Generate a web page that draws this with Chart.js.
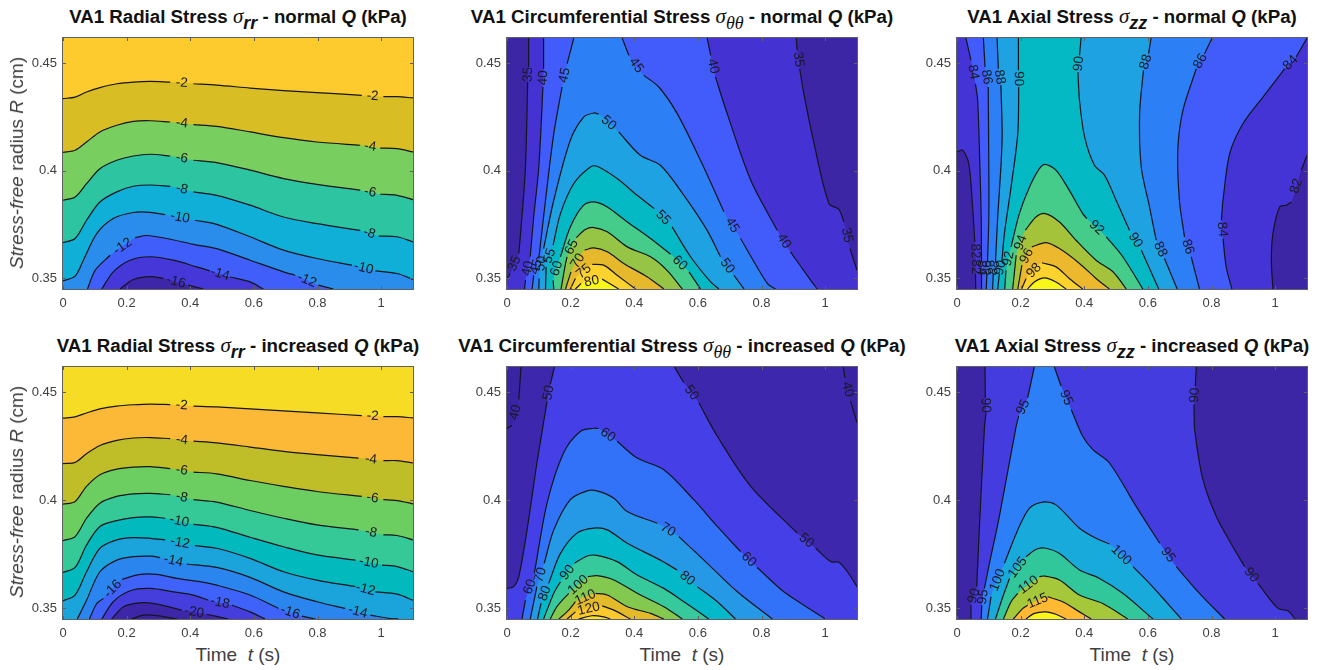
<!DOCTYPE html>
<html>
<head>
<meta charset="utf-8">
<script src="https://cdn.jsdelivr.net/npm/chart.js@4"></script>
<style>
  html, body { margin: 0; padding: 0; background: #fff; }
  #page { position: relative; width: 1323px; height: 670px; overflow: hidden; font-family: "Liberation Sans", Arial, sans-serif; }
  canvas { position: absolute; }
  .title { position: absolute; white-space: pre; font-weight: bold; font-size: 18.7px; line-height: 20px; color: #111; transform: translateX(-50%); }
  .title .sym { font-family: "Liberation Serif", serif; font-style: italic; font-weight: normal; font-size: 21px; }
  .title sub { font-style: italic; font-size: 18px; line-height: 0; position: relative; top: 6px; vertical-align: baseline; }
  .title sub.th { font-family: "Liberation Serif", serif; font-weight: normal; }
  .xlab, .ylab { position: absolute; white-space: pre; font-size: 19px; line-height: 20px; color: #404040; }
  .xlab { transform: translateX(-50%); }
  .ylab { transform: translate(-50%, -50%) rotate(-90deg); }
</style>
</head>
<body>
<div id="page"></div>
<script>
// axis limits and ticks
const tMin = 0, tMax = 1.1, rMin = 0.345, rMax = 0.4618;
const tTicks = [0, 0.2, 0.4, 0.6, 0.8, 1];
const rTicks = [0.35, 0.4, 0.45];

// null in a contour = gap where the level label sits
// Radial stress, normal Q
const rrNLevels = [-2, -4, -6, -8, -10, -12, -14, -16];
const rrNColors = ["#fdcb2e", "#d9bd24", "#78ce5f", "#2dc4a2", "#10afd8", "#2a8deb", "#405efa", "#4637d8", "#3e26a8"];
const rrN2 = [[0,.4336],[.038,.4343],[.074,.4367],[.116,.4387],[.169,.4405],[.221,.4413],[.274,.4416],[.337,.4413],null,[.41,.4405],[.483,.4399],[.588,.4385],[.693,.4373],[.798,.4364],[.939,.4351],null,[1.007,.4345],[1.05,.4345],[1.1,.4339]];
const rrN4 = [[0,.4086],[.038,.4096],[.074,.4134],[.116,.4181],[.169,.4212],[.221,.4230],[.274,.4233],[.337,.4227],null,[.41,.4215],[.483,.4207],[.588,.4181],[.693,.4154],[.798,.4134],[.934,.4119],null,[.997,.4106],[1.05,.4103],[1.1,.4088]];
const rrN6 = [[0,.3863],[.038,.3878],[.074,.3940],[.116,.4010],[.169,.4049],[.221,.4069],[.274,.4077],[.337,.4069],null,[.41,.4049],[.483,.4038],[.588,.4003],[.693,.3964],[.798,.3937],[.934,.3910],null,[.997,.3891],[1.05,.3886],[1.1,.3866]];
const rrN8 = [[0,.3665],[.038,.3685],[.074,.3770],[.116,.3855],[.169,.3902],[.221,.3928],[.274,.3934],[.337,.3928],null,[.41,.3902],[.483,.3886],[.588,.3840],[.693,.3785],[.798,.3754],[.934,.3723],null,[.992,.3696],[1.05,.3693],[1.1,.3669]];
const rrN10 = [[0,.3488],[.038,.3510],[.064,.3584],[.106,.3708],[.158,.3778],[.221,.3806],[.274,.3807],[.321,.3796],null,[.415,.3770],[.483,.3751],[.588,.3693],[.693,.3631],[.798,.3592],[.908,.3561],null,[.982,.3534],[1.05,.3522],[1.1,.3494]];
const rrN12 = [[.077,.345],[.101,.3537],[.148,.3607],null,[.227,.3689],[.263,.3699],[.326,.3685],[.41,.3658],[.483,.3638],[.588,.3584],[.693,.3530],[.73,.3514],null,[.803,.3468],[.85,.345]];
const rrN14 = [[.122,.345],[.158,.3530],[.211,.3584],[.274,.3600],[.347,.3584],[.42,.3553],[.462,.3534],null,[.525,.3506],[.588,.3483],[.63,.345]];
const rrN16 = [[.179,.345],[.221,.3494],[.274,.3508],[.316,.3499],null,[.394,.3468],[.441,.345]];

// Circumferential stress, normal Q
const ttNLevels = [35, 40, 45, 50, 55, 60, 65, 70, 75, 80];
const ttNColors = ["#3c26a5", "#4432d2", "#415cfa", "#2d7ff5", "#1fa2e2", "#04b8c4", "#46cc8a", "#96c445", "#e6b92d", "#fcd22e", "#f9f61a"];
const ttN35L = [[0,.3499],[.010,.3522],null,[.037,.3615],[.047,.3786],[.058,.4018],[.065,.4413],null,[.068,.4483],[.068,.4618]];
const ttN35R = [[.909,.4618],[.912,.4561],null,[.920,.4475],[.933,.4359],[.965,.4127],[1.012,.3848],[1.043,.3820],[1.059,.3762],null,[1.078,.3638],[1.1,.3537]];
const ttN40L = [[.055,.345],[.058,.3491],null,[.073,.3600],[.084,.3786],[.100,.4018],[.113,.4390],null,[.115,.4475],[.115,.4618]];
const ttN40R = [[.629,.4618],[.640,.4537],null,[.655,.4437],[.692,.4266],[.766,.3956],[.849,.3723],null,[.891,.3623],[.954,.3491],[.975,.345]];
const ttN45L = [[.079,.345],[.084,.3514],null,[.100,.3592],[.121,.3863],[.147,.4173],[.173,.4390],null,[.189,.4499],[.210,.4618]];
const ttN45R = [[.362,.4618],[.383,.4537],null,[.430,.4444],[.477,.4390],[.535,.4266],[.608,.4049],[.682,.3809],null,[.734,.3685],[.818,.3476],[.844,.345]];
const ttN50 = [[.100,.345],[.101,.3499],null,[.115,.3638],[.147,.3863],[.199,.4142],[.241,.4250],[.273,.4269],[.288,.4264],null,[.351,.4181],[.419,.4072],[.482,.4026],[.556,.3886],[.629,.3723],[.671,.3600],null,[.713,.3514],[.745,.345]];
const ttN55 = [[.121,.345],[.123,.3553],null,[.145,.3654],[.168,.3801],[.210,.3941],[.262,.4018],[.283,.4021],[.346,.3964],[.409,.3886],[.463,.3824],null,[.519,.3739],[.577,.3600],[.640,.3483],[.666,.345]];
const ttN60 = [[.147,.345],[.145,.3491],null,[.168,.3600],[.199,.3739],[.241,.3840],[.273,.3855],[.315,.3832],[.378,.3762],[.451,.3685],[.514,.3612],null,[.572,.3530],[.608,.345]];
const ttN65 = [[.170,.345],[.184,.3569],[.189,.3600],null,[.218,.3689],[.246,.3727],[.273,.3736],[.315,.3716],[.378,.3646],[.451,.3600],[.503,.3537],[.551,.345]];
const ttN70 = [[.184,.345],[.201,.3530],null,[.244,.3631],[.273,.3641],[.315,.3623],[.367,.3569],[.440,.3507],[.493,.345]];
const ttN75 = [[.199,.345],[.215,.3499],null,[.268,.3565],[.304,.3561],[.346,.3514],[.404,.345]];
const ttN80 = [[.215,.345],[.233,.3476],null,[.299,.3496],[.351,.345]];

// Axial stress, normal Q
const zzNLevels = [82, 84, 86, 88, 90, 92, 94, 96, 98, 100];
const zzNColors = ["#3c26a5", "#4434d6", "#415cfa", "#2d7ff5", "#1fa2e2", "#04b8c4", "#46cc8a", "#a5c33a", "#ecb92e", "#fcd22e", "#f9f61a"];
const zzN82L = [[0,.4088],[.018,.4096],[.037,.4034],[.049,.3832],[.056,.3669],null,[.058,.3584],null,[.058,.3522],[.059,.345]];
const zzN82R = [[.993,.345],[.988,.3584],[.993,.3708],[1.014,.3832],[1.035,.3840],[1.051,.3855],null,[1.082,.4003],[1.1,.4072]];
const zzN84L = [[.077,.345],[.077,.3522],null,[.077,.3576],[.076,.3786],[.072,.4018],[.065,.4328],[.058,.4405],null,[.044,.4514],[.028,.4618]];
const zzN84R = [[1.1,.4618],[1.066,.4530],null,[1.030,.4475],[.962,.4344],[.899,.4220],[.857,.4080],[.836,.3863],[.831,.3770],null,[.836,.3685],[.846,.3553],[.864,.345]];
const zzN86L = [[.092,.345],[.094,.3522],null,[.096,.3576],[.100,.3786],[.100,.4018],[.098,.4390],null,[.088,.4483],[.083,.4618]];
const zzN86R = [[.802,.4618],[.778,.4545],null,[.752,.4475],[.710,.4281],[.694,.4096],[.699,.3863],[.715,.3692],null,[.736,.3600],[.762,.345]];
const zzN88L = [[.112,.345],[.114,.3522],null,[.121,.3576],[.128,.3786],[.138,.4018],[.142,.4173],[.138,.4398],null,[.130,.4475],[.126,.4618]];
const zzN88R = [[.610,.4618],[.602,.4545],null,[.586,.4468],[.574,.4266],[.579,.4018],[.605,.3832],[.626,.3677],null,[.652,.3592],[.692,.345]];
const zzN90L = [[.128,.345],[.133,.3522],null,[.141,.3576],[.149,.3708],[.170,.3925],[.191,.4173],[.194,.4390],null,[.193,.4468],[.193,.4618]];
const zzN90R = [[.390,.4618],[.385,.4537],null,[.380,.4460],[.385,.4328],[.401,.4158],[.432,.4026],[.464,.3979],[.500,.3863],[.542,.3723],null,[.579,.3631],[.634,.345]];
const zzN92 = [[.150,.345],[.154,.3537],null,[.170,.3646],[.196,.3801],[.228,.3925],[.259,.4010],[.277,.4030],[.311,.4003],[.353,.3909],[.395,.3801],[.408,.3778],null,[.469,.3693],[.521,.3600],[.584,.345]];
const zzN94 = [[.175,.345],[.186,.3607],null,[.215,.3724],[.249,.3786],[.277,.3801],[.322,.3762],[.374,.3677],[.437,.3584],[.490,.3530],[.532,.345]];
const zzN96 = [[.191,.345],[.204,.3561],null,[.235,.3646],[.280,.3666],[.322,.3638],[.385,.3569],[.437,.3499],[.479,.345]];
const zzN98 = [[.203,.345],[.217,.3499],null,[.267,.3572],[.311,.3553],[.353,.3499],[.395,.345]];
const zzN100 = [[.222,.345],[.243,.3483],[.275,.3502],[.311,.3483],[.343,.345]];

// Radial stress, increased Q
const rrILevels = [-2, -4, -6, -8, -10, -12, -14, -16, -18, -20, -22];
const rrIColors = ["#f7dc26", "#fcb938", "#bfbe28", "#6ccd60", "#35c997", "#02b9be", "#1ba3dc", "#2b85ee", "#3f62fa", "#463edc", "#3e26a8", "#3a22a0"];
const rrI2 = [[0,.4381],[.038,.4387],[.074,.4405],[.116,.4424],[.169,.4437],[.221,.4443],[.274,.4446],[.337,.4444],null,[.41,.4437],[.483,.4433],[.588,.4424],[.693,.4415],[.798,.4405],[.939,.4393],null,[1.007,.4388],[1.05,.4388],[1.1,.4382]];
const rrI4 = [[0,.4170],[.038,.4176],[.074,.4216],[.116,.4254],[.169,.4278],[.221,.4289],[.274,.4291],[.337,.4286],null,[.41,.4274],[.483,.4266],[.588,.4247],[.693,.4227],[.798,.4212],[.929,.4196],null,[1.007,.4184],[1.05,.4184],[1.1,.4173]];
const rrI6 = [[0,.3982],[.038,.3995],[.074,.4065],[.116,.4119],[.169,.4145],[.221,.4154],[.274,.4156],[.337,.4147],null,[.41,.4131],[.483,.4123],[.588,.4092],[.693,.4065],[.798,.4041],[.939,.4018],null,[1.007,.4003],[1.05,.3999],[1.1,.3984]];
const rrI8 = [[0,.3813],[.038,.3832],[.074,.3917],[.116,.3987],[.169,.4018],[.221,.4030],[.274,.4032],[.337,.4026],null,[.41,.4003],[.483,.3992],[.588,.3953],[.693,.3917],[.798,.3886],[.929,.3863],null,[1.007,.3840],[1.05,.3837],[1.1,.3817]];
const rrI10 = [[0,.3666],[.038,.3689],[.074,.3793],[.116,.3879],[.169,.3906],[.221,.3920],[.274,.3923],[.321,.3917],null,[.41,.3889],[.483,.3875],[.588,.3829],[.693,.3785],[.798,.3747],[.919,.3723],null,[1.003,.3700],[1.05,.3693],[1.1,.3669]];
const rrI12 = [[0,.3534],[.038,.3561],[.074,.3669],[.116,.3778],[.169,.3817],[.221,.3827],[.274,.3824],[.321,.3817],null,[.415,.3790],[.483,.3778],[.588,.3731],[.693,.3669],[.798,.3630],[.919,.3600],null,[.982,.3576],[1.05,.3565],[1.1,.3537]];
const rrI14 = [[.045,.345],[.074,.3537],[.116,.3669],[.169,.3723],[.221,.3739],[.279,.3741],[.305,.3734],null,[.389,.3705],[.483,.3689],[.588,.3643],[.693,.3576],[.798,.3530],[.887,.3499],null,[.966,.3468],[1.029,.3452],[1.055,.345]];
const rrI16 = [[.083,.345],[.106,.3522],[.127,.3545],null,[.186,.3634],[.242,.3657],[.295,.3657],[.358,.3638],[.431,.3623],[.483,.3607],[.588,.3561],[.677,.3499],null,[.751,.3463],[.793,.345]];
const rrI18 = [[.122,.345],[.158,.3530],[.211,.3581],[.274,.3592],[.347,.3576],[.41,.3561],[.457,.3537],null,[.531,.3514],[.588,.3483],[.635,.345]];
const rrI20 = [[.153,.345],[.190,.3507],[.242,.3525],[.295,.3519],[.373,.3491],null,[.452,.3472],[.52,.345]];
const rrI22 = [[.216,.345],[.253,.3468],[.295,.3466],[.358,.345]];

// Circumferential stress, increased Q
const ttILevels = [40, 50, 60, 70, 80, 90, 100, 110, 120, 130];
const ttIColors = ["#3a24a3", "#3d27ad", "#443fe6", "#3272f9", "#2598e6", "#03b8c8", "#35c99b", "#84c94f", "#e2ba2a", "#fbc92e", "#f8e126"];
const ttI40L = [[0,.4333],[.016,.4348],null,[.037,.4467],[.044,.4618]];
const ttI40R = [[1.057,.4618],[1.062,.4568],null,[1.080,.4460],[1.1,.4359]];
const ttI50L = [[0,.3592],[.021,.3600],[.037,.3646],[.063,.3863],[.094,.4173],[.126,.4460],null,[.136,.4537],[.149,.4618]];
const ttI50R = [[.526,.4618],[.556,.4545],null,[.603,.4452],[.661,.4297],[.766,.4065],[.912,.3848],null,[.970,.3778],[1.017,.3716],[1.043,.3713],[1.070,.3669],[1.1,.3600]];
const ttI60 = [[.047,.345],[.058,.3537],null,[.086,.3662],[.126,.3987],[.178,.4220],[.231,.4320],[.273,.4334],[.288,.4333],null,[.346,.4274],[.409,.4196],[.493,.4142],[.587,.4003],[.661,.3879],[.734,.3762],null,[.786,.3689],[.870,.3576],[.933,.3514],[1.001,.345]];
const ttI70 = [[.073,.345],[.094,.3600],null,[.117,.3708],[.147,.3863],[.199,.4003],[.252,.4044],[.283,.4044],[.336,.4010],[.378,.3948],[.472,.3894],null,[.540,.3832],[.619,.3723],[.724,.3576],[.834,.345]];
const ttI80 = [[.096,.345],[.107,.3522],null,[.131,.3615],[.168,.3754],[.220,.3848],[.273,.3871],[.315,.3863],[.378,.3801],[.482,.3723],[.535,.3677],null,[.598,.3600],[.661,.3530],[.718,.345]];
const ttI90 = [[.115,.345],[.147,.3569],[.168,.3623],null,[.212,.3708],[.252,.3742],[.283,.3745],[.346,.3716],[.409,.3654],[.493,.3592],[.556,.3530],[.634,.345]];
const ttI100 = [[.136,.345],[.157,.3507],[.194,.3569],null,[.254,.3646],[.283,.3651],[.336,.3631],[.409,.3569],[.493,.3507],[.551,.345]];
const ttI110 = [[.163,.345],[.194,.3491],[.215,.3530],null,[.278,.3569],[.315,.3561],[.378,.3507],[.451,.3476],[.493,.345]];
const ttI120 = [[.189,.345],[.215,.3483],null,[.299,.3511],[.336,.3491],[.388,.345]];
const ttI130 = [[.225,.345],[.267,.3465],[.304,.3460],[.325,.345]];

// Axial stress, increased Q
const zzILevels = [90, 95, 100, 105, 110, 115, 120];
const zzIColors = ["#3c26a5", "#453ce0", "#2d7ff8", "#19aadc", "#32c79b", "#a5c83a", "#ffb932", "#f9f61a"];
const zzI90L = [[.044,.345],[.044,.3514],null,[.062,.3600],[.070,.3863],[.086,.4328],[.091,.4406],null,[.089,.4475],[.088,.4618]];
const zzI90R = [[.752,.4618],[.749,.4530],null,[.745,.4444],[.747,.4328],[.773,.4096],[.815,.3925],[.867,.3785],[.904,.3693],null,[.946,.3615],[1.009,.3499],[1.040,.3488],[1.063,.345]];
const zzI95L = [[.076,.345],[.078,.3514],null,[.086,.3592],[.102,.3708],[.133,.3925],[.186,.4344],[.194,.4390],null,[.222,.4475],[.243,.4618]];
const zzI95R = [[.306,.4618],[.327,.4530],null,[.359,.4421],[.395,.4297],[.427,.4235],[.479,.4173],[.563,.3972],[.637,.3801],null,[.689,.3693],[.762,.3569],[.841,.345]];
const zzI100 = [[.096,.345],[.107,.3553],null,[.149,.3708],[.191,.3863],[.228,.3964],[.270,.3992],[.311,.3979],[.385,.3871],[.437,.3824],[.479,.3798],null,[.553,.3693],[.605,.3615],[.657,.3530],[.705,.345]];
const zzI105 = [[.121,.345],[.144,.3553],[.165,.3638],null,[.217,.3739],[.249,.3773],[.275,.3779],[.322,.3754],[.385,.3677],[.448,.3638],[.521,.3569],[.616,.345]];
const zzI110 = [[.146,.345],[.170,.3530],[.191,.3569],null,[.259,.3646],[.275,.3649],[.322,.3631],[.385,.3561],[.458,.3522],[.537,.345]];
const zzI115 = [[.177,.345],[.207,.3499],[.222,.3514],null,[.285,.3553],[.332,.3530],[.385,.3483],[.422,.345]];
const zzI120 = [[.217,.345],[.243,.3476],[.280,.3483],[.311,.3472],[.343,.345]];

const panels = [
  { x: 63, y: 38, h: 251, title: ["VA1 Radial Stress ", "rr", " - normal "], levels: rrNLevels, colors: rrNColors,
    contours: [[rrN2],[rrN4],[rrN6],[rrN8],[rrN10],[rrN12],[rrN14],[rrN16]] },
  { x: 507, y: 38, h: 251, title: ["VA1 Circumferential Stress ", "θθ", " - normal "], levels: ttNLevels, colors: ttNColors,
    contours: [[ttN35L,ttN35R],[ttN40L,ttN40R],[ttN45L,ttN45R],[ttN50],[ttN55],[ttN60],[ttN65],[ttN70],[ttN75],[ttN80]] },
  { x: 957, y: 38, h: 251, title: ["VA1 Axial Stress ", "zz", " - normal "], levels: zzNLevels, colors: zzNColors, closeTop: [82],
    contours: [[zzN82L,zzN82R],[zzN84L,zzN84R],[zzN86L,zzN86R],[zzN88L,zzN88R],[zzN90L,zzN90R],[zzN92],[zzN94],[zzN96],[zzN98],[zzN100]] },
  { x: 63, y: 367, h: 252, title: ["VA1 Radial Stress ", "rr", " - increased "], levels: rrILevels, colors: rrIColors,
    contours: [[rrI2],[rrI4],[rrI6],[rrI8],[rrI10],[rrI12],[rrI14],[rrI16],[rrI18],[rrI20],[rrI22]] },
  { x: 507, y: 367, h: 252, title: ["VA1 Circumferential Stress ", "θθ", " - increased "], levels: ttILevels, colors: ttIColors,
    contours: [[ttI40L,ttI40R],[ttI50L,ttI50R],[ttI60],[ttI70],[ttI80],[ttI90],[ttI100],[ttI110],[ttI120],[ttI130]] },
  { x: 957, y: 367, h: 252, title: ["VA1 Axial Stress ", "zz", " - increased "], levels: zzILevels, colors: zzIColors,
    contours: [[zzI90L,zzI90R],[zzI95L,zzI95R],[zzI100],[zzI105],[zzI110],[zzI115],[zzI120]] }
];

const pad = { left: 45, top: 4, right: 12, bottom: 24 };
const plotW = 350;
const page = document.getElementById("page");

const toXY = p => (p ? { x: p[0], y: p[1] } : { x: null, y: null });

// closed outline of one level, doubled joints stay sharp with tension on
function outline(pieces, closeTop) {
  const pts = [];
  pieces.forEach(piece => {
    const clean = piece.filter(Boolean);
    pts.push(clean[0], ...clean, clean[clean.length - 1]);
  });
  const first = pts[0], last = pts[pts.length - 1];
  if (first[0] === tMin && last[0] === tMax) {
    const r = closeTop ? rMax : rMin;
    pts.push([tMax, r], [tMax, r], [tMin, r], [tMin, r]);
  }
  return pts;
}

function buildDatasets(panel) {
  const sets = [];
  const n = panel.contours.length;
  panel.contours.forEach((pieces, i) => {
    const closeTop = (panel.closeTop || []).includes(panel.levels[i]);
    sets.push({
      data: outline(pieces, closeTop).map(toXY),
      showLine: true, fill: "shape", backgroundColor: panel.colors[i + 1],
      borderWidth: 0, pointRadius: 0, tension: 0.3, order: n - i + 1
    });
    pieces.forEach(piece => sets.push({
      data: piece.map(toXY),
      showLine: true, fill: false, borderColor: "#15151c",
      borderWidth: 1.2, pointRadius: 0, tension: 0.3, spanGaps: false, order: 0
    }));
  });
  return sets;
}

// paints the lowest band, the box, the inward ticks and the level labels
const contourPlugin = {
  id: "contour",
  beforeDatasetsDraw(chart, args, opts) {
    const a = chart.chartArea, ctx = chart.ctx;
    ctx.save();
    ctx.fillStyle = opts.panel.colors[0];
    ctx.fillRect(a.left, a.top, a.width, a.height);
    ctx.restore();
  },
  afterDatasetsDraw(chart, args, opts) {
    const a = chart.chartArea, ctx = chart.ctx;
    const sx = chart.scales.x, sy = chart.scales.y;
    ctx.save();
    ctx.font = '13.5px "Liberation Sans"';
    ctx.fillStyle = "#1a1a20";
    ctx.textAlign = "center";
    ctx.textBaseline = "middle";
    opts.panel.contours.forEach((pieces, i) => {
      pieces.forEach(piece => piece.forEach((p, j) => {
        if (p) return;
        const x0 = sx.getPixelForValue(piece[j - 1][0]), y0 = sy.getPixelForValue(piece[j - 1][1]);
        const x1 = sx.getPixelForValue(piece[j + 1][0]), y1 = sy.getPixelForValue(piece[j + 1][1]);
        let ang = Math.atan2(y1 - y0, x1 - x0);
        if (ang > Math.PI / 2) ang -= Math.PI;
        if (ang <= -Math.PI / 2) ang += Math.PI;
        ctx.save();
        ctx.translate((x0 + x1) / 2, (y0 + y1) / 2);
        ctx.rotate(ang);
        ctx.fillText(String(opts.panel.levels[i]), 0, 0);
        ctx.restore();
      }));
    });
    ctx.strokeStyle = "#5f5f66";
    ctx.lineWidth = 1;
    ctx.strokeRect(a.left - 0.5, a.top - 0.5, a.width + 1, a.height + 1);
    ctx.beginPath();
    tTicks.forEach(v => {
      const x = Math.round(sx.getPixelForValue(v)) + 0.5;
      ctx.moveTo(x, a.bottom); ctx.lineTo(x, a.bottom - 3);
      ctx.moveTo(x, a.top); ctx.lineTo(x, a.top + 3);
    });
    rTicks.forEach(v => {
      const y = Math.round(sy.getPixelForValue(v)) + 0.5;
      ctx.moveTo(a.left, y); ctx.lineTo(a.left + 3, y);
      ctx.moveTo(a.right, y); ctx.lineTo(a.right - 3, y);
    });
    ctx.stroke();
    ctx.restore();
  }
};

const tickFont = { family: '"Liberation Sans"', size: 13 };

panels.forEach((panel, idx) => {
  const canvas = document.createElement("canvas");
  canvas.width = pad.left + plotW + pad.right;
  canvas.height = pad.top + panel.h + pad.bottom;
  canvas.style.left = (panel.x - pad.left) + "px";
  canvas.style.top = (panel.y - pad.top) + "px";
  page.appendChild(canvas);

  new Chart(canvas, {
    type: "scatter",
    data: { datasets: buildDatasets(panel) },
    plugins: [contourPlugin],
    options: {
      responsive: false, animation: false, devicePixelRatio: 1,
      layout: { padding: { top: pad.top, right: pad.right, left: 0, bottom: 0 } },
      plugins: { legend: { display: false }, tooltip: { enabled: false }, contour: { panel } },
      scales: {
        x: {
          type: "linear", min: tMin, max: tMax,
          grid: { display: false, drawTicks: false }, border: { display: false },
          afterBuildTicks: s => { s.ticks = tTicks.map(v => ({ value: v })); },
          afterFit: s => { s.height = pad.bottom; s.paddingLeft = 0; s.paddingRight = 0; },
          ticks: { color: "#404040", font: tickFont, padding: 7, maxRotation: 0, autoSkip: false, callback: v => String(v) }
        },
        y: {
          type: "linear", min: rMin, max: rMax,
          grid: { display: false, drawTicks: false }, border: { display: false },
          afterBuildTicks: s => { s.ticks = rTicks.map(v => ({ value: v })); },
          afterFit: s => { s.width = pad.left; s.paddingTop = 0; s.paddingBottom = 0; },
          ticks: { color: "#404040", font: tickFont, padding: 6, autoSkip: false, callback: v => String(v) }
        }
      }
    }
  });

  const cx = panel.x + plotW / 2;
  const title = document.createElement("div");
  title.className = "title";
  title.style.left = cx + "px";
  title.style.top = (panel.y - 32) + "px";
  const subClass = panel.title[1] === "θθ" ? ' class="th"' : "";
  title.innerHTML = panel.title[0] + '<span class="sym">σ</span><sub' + subClass + '>' + panel.title[1] + '</sub>' +
    panel.title[2] + '<i>Q</i> (kPa)';
  page.appendChild(title);

  if (idx >= 3) {
    const xl = document.createElement("div");
    xl.className = "xlab";
    xl.style.left = cx + "px";
    xl.style.top = (panel.y + panel.h + 26) + "px";
    xl.innerHTML = "Time  <i>t</i> (s)";
    page.appendChild(xl);
  }
  if (idx % 3 === 0) {
    const yl = document.createElement("div");
    yl.className = "ylab";
    yl.style.left = "17px";
    yl.style.top = (panel.y + 125) + "px";
    yl.innerHTML = "<i>Stress-free</i> radius <i>R</i> (cm)";
    page.appendChild(yl);
  }
});
</script>
</body>
</html>
